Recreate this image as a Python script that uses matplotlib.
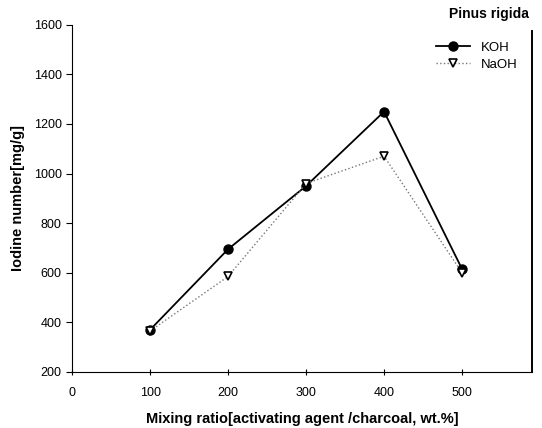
import matplotlib
matplotlib.use("Agg")
import matplotlib.pyplot as plt

plt.rcParams["font.family"] = ["Liberation Sans", "DejaVu Sans"]

# Iodine number vs. mixing ratio for Pinus rigida charcoal
mixing_ratio = [100, 200, 300, 400, 500]
koh_iodine = [370, 695, 950, 1250, 615]
naoh_iodine = [365, 585, 960, 1070, 600]

fig = plt.figure(figsize=(5.42, 4.28), dpi=100)
ax = fig.add_axes([0.133, 0.131, 0.849, 0.811])

ax.plot(mixing_ratio, koh_iodine, color="black", linestyle="-", linewidth=1.3,
        marker="o", markersize=6.5, markerfacecolor="black", label="KOH")
ax.plot(mixing_ratio, naoh_iodine, color="#777777", linestyle=":", linewidth=1.0,
        marker="v", markersize=6, markerfacecolor="white",
        markeredgecolor="black", markeredgewidth=1.2, label="NaOH")

ax.set_xlim(0, 590)
ax.set_ylim(200, 1600)
ax.set_xticks([0, 100, 200, 300, 400, 500])
ax.set_yticks(range(200, 1601, 200))
ax.tick_params(axis="y", direction="out", length=4, labelsize=9)
ax.tick_params(axis="x", direction="inout", length=5, labelsize=9, pad=8)

ax.spines["top"].set_visible(False)
ax.spines["right"].set_linewidth(1.4)
ax.spines["right"].set_bounds(200, 1575)

ax.set_xlabel("Mixing ratio[activating agent /charcoal, wt.%]",
              fontsize=10.5, fontweight="bold", labelpad=10)
ax.set_ylabel("Iodine number[mg/g]", fontsize=10.5, fontweight="bold", labelpad=6)

fig.text(0.975, 0.968, "Pinus rigida", ha="right", va="center",
         fontsize=10, fontweight="bold")

leg = ax.legend(loc="upper right", bbox_to_anchor=(0.985, 0.975), frameon=False,
                fontsize=9.5, handlelength=2.6, handletextpad=0.8,
                labelspacing=0.35, borderaxespad=0.2)

fig.savefig("out.png", dpi=100)
